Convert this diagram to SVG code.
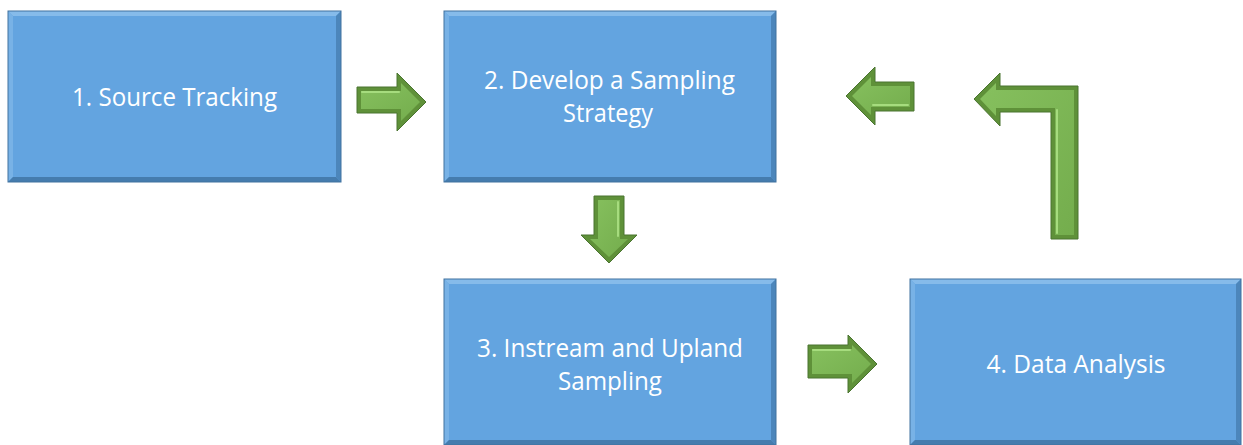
<svg xmlns="http://www.w3.org/2000/svg" width="1243" height="445" viewBox="0 0 1243 445">
<style>
.face{fill:#63A4E0}
.bt{fill:#86BBEA}
.bl{fill:#78B2E6}
.br{fill:#4C86BB}
.bb{fill:#457CAE}
.edge{fill:none;stroke:#41729F;stroke-width:1}
.lbl{font-family:"Open Sans","Liberation Sans",sans-serif;font-size:25px;fill:#FFFFFF;text-anchor:middle}
.rim{fill:#5F9139;stroke:#4A7430;stroke-width:1}
.inner{fill:url(#g)}
.hl{fill:none;stroke:#A6DC7E;stroke-width:2;stroke-linecap:round}
</style>
<defs>
<linearGradient id="g" x1="0" y1="0" x2="1" y2="1">
<stop offset="0" stop-color="#86C05E"/>
<stop offset="1" stop-color="#74AD4D"/>
</linearGradient>
</defs>

<g id="node1">
<rect class="face" x="8" y="11" width="333" height="171"/>
<polygon class="bt" points="8,11 341,11 336,16 13,16"/>
<polygon class="bl" points="8,11 13,16 13,177 8,182"/>
<polygon class="br" points="341,11 341,182 336,177 336,16"/>
<polygon class="bb" points="8,182 341,182 336,177 13,177"/>
<rect class="edge" x="8" y="11" width="333" height="171"/>
<text class="lbl" x="174.5" y="106" textLength="205" lengthAdjust="spacingAndGlyphs">1. Source Tracking</text>
</g>

<g id="node2">
<rect class="face" x="444" y="11" width="332" height="171"/>
<polygon class="bt" points="444,11 776,11 771,16 449,16"/>
<polygon class="bl" points="444,11 449,16 449,177 444,182"/>
<polygon class="br" points="776,11 776,182 771,177 771,16"/>
<polygon class="bb" points="444,182 776,182 771,177 449,177"/>
<rect class="edge" x="444" y="11" width="332" height="171"/>
<text class="lbl" x="609.5" y="89" textLength="251" lengthAdjust="spacingAndGlyphs">2. Develop a Sampling</text>
<text class="lbl" x="608" y="122" textLength="90" lengthAdjust="spacingAndGlyphs">Strategy</text>
</g>

<g id="node3">
<rect class="face" x="444" y="279" width="332" height="166"/>
<polygon class="bt" points="444,279 776,279 771,284 449,284"/>
<polygon class="bl" points="444,279 449,284 449,440 444,445"/>
<polygon class="br" points="776,279 776,445 771,440 771,284"/>
<polygon class="bb" points="444,445 776,445 771,440 449,440"/>
<rect class="edge" x="444" y="279" width="332" height="166"/>
<text class="lbl" x="610" y="357" textLength="266" lengthAdjust="spacingAndGlyphs">3. Instream and Upland</text>
<text class="lbl" x="610" y="390" textLength="104" lengthAdjust="spacingAndGlyphs">Sampling</text>
</g>

<g id="node4">
<rect class="face" x="910" y="279" width="331" height="166"/>
<polygon class="bt" points="910,279 1241,279 1236,284 915,284"/>
<polygon class="bl" points="910,279 915,284 915,440 910,445"/>
<polygon class="br" points="1241,279 1241,445 1236,440 1236,284"/>
<polygon class="bb" points="910,445 1241,445 1236,440 915,440"/>
<rect class="edge" x="910" y="279" width="331" height="166"/>
<text class="lbl" x="1076" y="373" textLength="179" lengthAdjust="spacingAndGlyphs">4. Data Analysis</text>
</g>

<g id="connectors">
<g id="arrow-1-2">
<path class="rim" d="M357,87 L397,87 L397,73 L426,102 L397,131 L397,113 L357,113 Z"/>
<path class="inner" d="M361,91 L401,91 L401,83 L420,102 L401,121 L401,109 L361,109 Z"/>
<path class="hl" d="M362,92 L399,92"/>
</g>
<g id="arrow-2-3">
<path class="rim" d="M594,196 L624,196 L624,235 L637,235 L609,263 L581,235 L594,235 Z"/>
<path class="inner" d="M598,200 L620,200 L620,239 L628,239 L609,257 L590,239 L598,239 Z"/>
<path class="hl" d="M618,202 L618,236"/>
</g>
<g id="arrow-3-4">
<path class="rim" d="M808,345 L848,345 L848,335 L877,364 L848,393 L848,378 L808,378 Z"/>
<path class="inner" d="M812,349 L852,349 L852,345 L871,364 L852,383 L852,374 L812,374 Z"/>
<path class="hl" d="M813,350 L850,350"/>
</g>
<g id="arrow-4-2">
<path class="rim" d="M1078,86 L1078,239 L1051,239 L1051,112 L1000,112 L1000,126 L974,99 L1000,73 L1000,86 Z"/>
<path class="inner" d="M1074,90 L1074,235 L1055,235 L1055,108 L996,108 L996,116 L980,99 L996,83 L996,90 Z"/>
<path class="hl" d="M1057,110 L1057,233"/>
</g>
<g id="arrow-to-2">
<path class="rim" d="M914,82 L875,82 L875,67 L846,96 L875,125 L875,111 L914,111 Z"/>
<path class="inner" d="M910,86 L871,86 L871,77 L852,96 L871,115 L871,107 L910,107 Z"/>
<path class="hl" d="M873,105 L908,105"/>
</g>
</g>
</svg>
